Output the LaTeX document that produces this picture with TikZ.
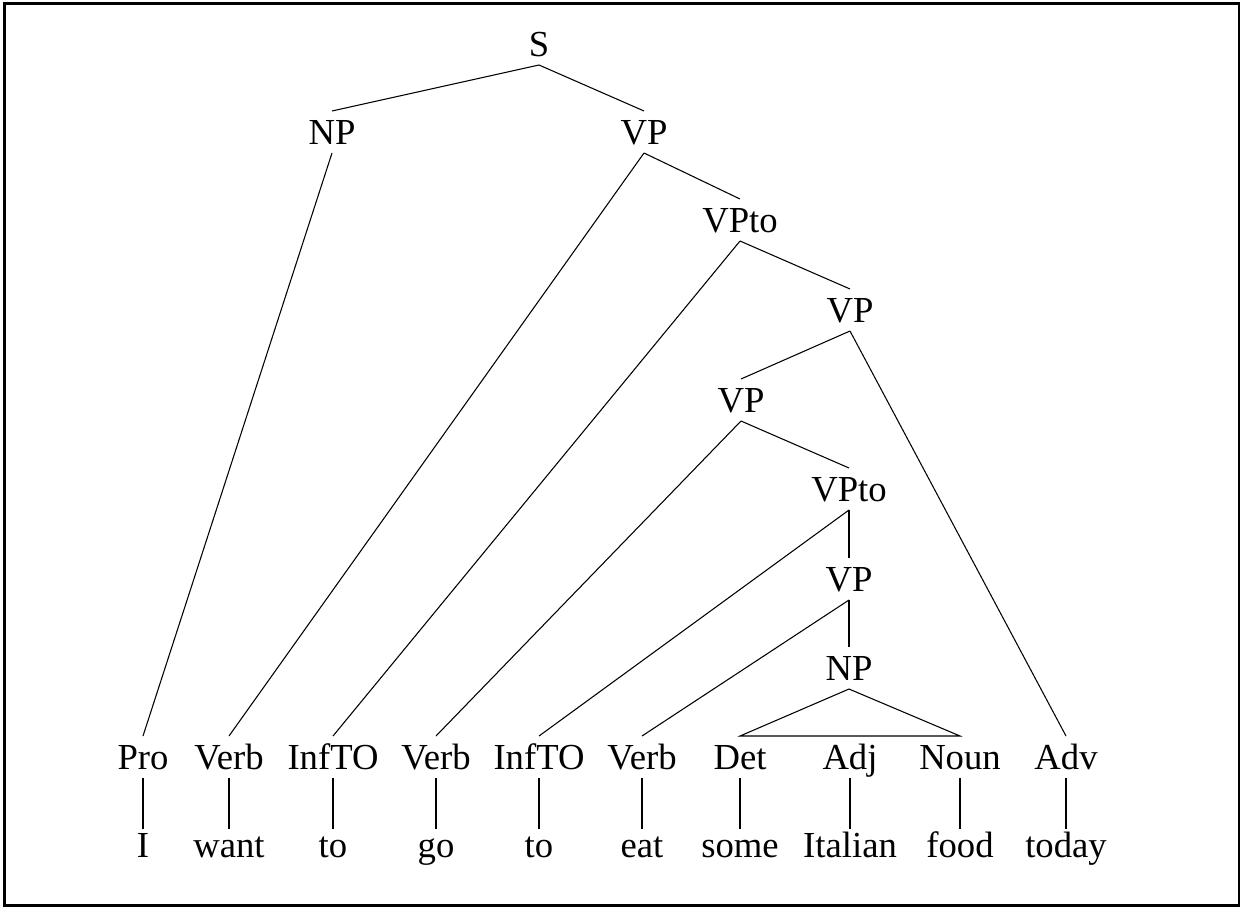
\documentclass[tikz,border=0pt]{standalone}
\usepackage{fontspec}
\setmainfont{Liberation Serif}
\begin{document}
\begin{tikzpicture}[x=0.75pt,y=-0.75pt,
  lbl/.style={font=\fontsize{27.5}{33}\selectfont, text height=18pt, text depth=0pt,
    inner xsep=0pt, inner ysep=6.75pt, outer sep=0pt},
  word/.style={lbl, inner ysep=3.75pt},
  edge/.style={line width=0.8pt},
  frame/.style={line width=1.9pt}]
\useasboundingbox (0,0) rectangle (1241,907);
\draw[frame] (4.5,3.5) rectangle (1239,905.5);
% internal nodes
\node[lbl] (S)    at (539,44)  {S};
\node[lbl] (NPa)  at (332,132) {NP};
\node[lbl] (VPa)  at (644,132) {VP};
\node[lbl] (VPtoa) at (740,220) {VPto};
\node[lbl] (VPb)  at (850,310) {VP};
\node[lbl] (VPc)  at (741,400) {VP};
\node[lbl] (VPtob) at (849,489) {VPto};
\node[lbl] (VPd)  at (849,579) {VP};
\node[lbl] (NPb)  at (849,668) {NP};
% preterminals
\node[lbl] (Pro)   at (143,757) {Pro};
\node[lbl] (Verba) at (229,757) {Verb};
\node[lbl] (Infa)  at (333,757) {InfTO};
\node[lbl] (Verbb) at (436,757) {Verb};
\node[lbl] (Infb)  at (539,757) {InfTO};
\node[lbl] (Verbc) at (642,757) {Verb};
\node[lbl] (Det)   at (740,757) {Det};
\node[lbl] (Adj)   at (850,757) {Adj};
\node[lbl] (Noun)  at (960,757) {Noun};
\node[lbl] (Adv)   at (1066,757) {Adv};
% words
\node[word] (wI)    at (143,845.5) {I};
\node[word] (wwant) at (229,845.5) {want};
\node[word] (wtoa)  at (333,845.5) {to};
\node[word] (wgo)   at (436,845.5) {go};
\node[word] (wtob)  at (539,845.5) {to};
\node[word] (weat)  at (642,845.5) {eat};
\node[word] (wsome) at (740,845.5) {some};
\node[word] (wital) at (850,845.5) {Italian};
\node[word] (wfood) at (960,845.5) {food};
\node[word] (wtoday) at (1066,845.5) {today};
% edges
\draw[edge] (S.south) -- (NPa.north);
\draw[edge] (S.south) -- (VPa.north);
\draw[edge] (NPa.south) -- (Pro.north);
\draw[edge] (VPa.south) -- (Verba.north);
\draw[edge] (VPa.south) -- (VPtoa.north);
\draw[edge] (VPtoa.south) -- (Infa.north);
\draw[edge] (VPtoa.south) -- (VPb.north);
\draw[edge] (VPb.south) -- (VPc.north);
\draw[edge] (VPb.south) -- (Adv.north);
\draw[edge] (VPc.south) -- (Verbb.north);
\draw[edge] (VPc.south) -- (VPtob.north);
\draw[edge] (VPtob.south) -- (Infb.north);
\draw[edge] (VPtob.south) -- (VPd.north);
\draw[edge] (VPd.south) -- (Verbc.north);
\draw[edge] (VPd.south) -- (NPb.north);
\draw[edge] (NPb.south) -- (Det.north) -- (Noun.north) -- cycle;
\foreach \p/\w in {Pro/wI, Verba/wwant, Infa/wtoa, Verbb/wgo, Infb/wtob, Verbc/weat, Det/wsome, Adj/wital, Noun/wfood, Adv/wtoday}
  \draw[edge] (\p.south) -- (\w.north);
\end{tikzpicture}
\end{document}
